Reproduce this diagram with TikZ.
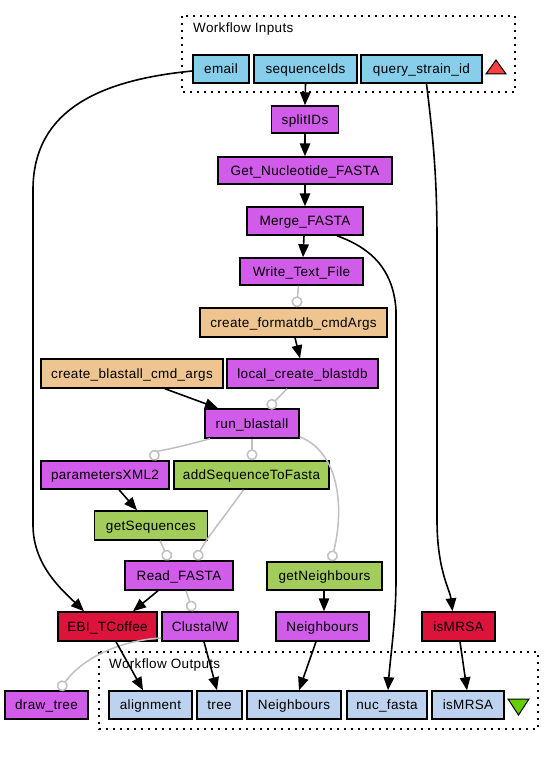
\documentclass[tikz,border=0pt]{standalone}
\usepackage{fontspec}
\setmainfont{Liberation Sans}[LetterSpace=2.5]
\usetikzlibrary{arrows.meta}
\definecolor{inblue}{RGB}{135,206,235}
\definecolor{procpurple}{RGB}{208,92,233}
\definecolor{tanbox}{RGB}{238,197,145}
\definecolor{greenbox}{RGB}{162,205,90}
\definecolor{redbox}{RGB}{220,20,60}
\definecolor{outblue}{RGB}{188,210,238}
\definecolor{ctlgrey}{RGB}{192,192,192}
\definecolor{trired}{RGB}{255,64,64}
\definecolor{trigreen}{RGB}{102,205,0}
\begin{document}
\begin{tikzpicture}[x=1pt,y=-1pt,
  box/.style={draw=black, line width=1.5pt, inner sep=0pt, minimum height=28pt,
    text height=11.5pt, text depth=2.3pt, font=\fontsize{13.5}{15}\selectfont},
  inbox/.style={box, fill=inblue},
  procbox/.style={box, fill=procpurple},
  tbox/.style={box, fill=tanbox},
  gbox/.style={box, fill=greenbox},
  rbox/.style={box, fill=redbox},
  obox/.style={box, fill=outblue},
  cluster/.style={draw=black, line width=1.8pt, dash pattern=on 1.8pt off 5.2pt},
  clabel/.style={anchor=base west, inner sep=0pt, font=\fontsize{13.5}{15}\selectfont},
  dep/.style={draw=black, line width=1.6pt, -{Triangle[length=13pt,width=10.5pt]}},
  ctl/.style={draw=ctlgrey, line width=1.5pt, -{Circle[length=11pt,width=11pt,fill=white]}},
  tri/.style={draw=black, line width=1pt}
]
\useasboundingbox[fill=white] (0,0) rectangle (555,757);

% clusters
\draw[cluster] (182,16) rectangle (515,92);
\node[clabel] (inlabel) at (193,32.7) {Workflow Inputs};
\draw[cluster] (99,652) rectangle (538,729);
\node[clabel] (outlabel) at (109,668.3) {Workflow Outputs};

% inputs
\node[inbox, minimum width=56pt] (email) at (221,69) {email};
\node[inbox, minimum width=103pt] (seqIds) at (305.5,69) {sequenceIds};
\node[inbox, minimum width=121pt] (qsid) at (421.5,69) {query\_strain\_id};
\draw[tri, fill=trired] (486,74) -- (506,74) -- (496,60) -- cycle;

% processors
\node[procbox, minimum width=67pt, minimum height=27pt] (splitIDs) at (305,119.5) {splitIDs};
\node[procbox, minimum width=174pt, minimum height=27pt] (getnuc) at (305,170.5) {Get\_Nucleotide\_FASTA};
\node[procbox, minimum width=116pt] (merge) at (305,221) {Merge\_FASTA};
\node[procbox, minimum width=123pt, minimum height=27pt] (write) at (301.5,271.5) {Write\_Text\_File};
\node[tbox, minimum width=187pt, minimum height=29pt] (formatdb) at (293.5,322.5) {create\_formatdb\_cmdArgs};
\node[tbox, minimum width=182pt, minimum height=29pt] (blastargs) at (132,373.5) {create\_blastall\_cmd\_args};
\node[procbox, minimum width=151pt, minimum height=29pt] (localdb) at (302.5,373.5) {local\_create\_blastdb};
\node[procbox, minimum width=94pt, minimum height=29pt] (runblast) at (252,423.5) {run\_blastall};
\node[procbox, minimum width=128pt] (params) at (105,475) {parametersXML2};
\node[gbox, minimum width=155pt] (addseq) at (251.5,475) {addSequenceToFasta};
\node[gbox, minimum width=113pt, minimum height=29pt] (getseq) at (151,525.5) {getSequences};
\node[procbox, minimum width=108pt, minimum height=29pt] (readfasta) at (179,575.5) {Read\_FASTA};
\node[gbox, minimum width=115pt] (getneigh) at (324.5,576) {getNeighbours};
\node[rbox, minimum width=99pt, minimum height=29pt] (ebi) at (107.5,626.5) {EBI\_TCoffee};
\node[procbox, minimum width=76pt, minimum height=29pt] (clustalw) at (200,626.5) {ClustalW};
\node[procbox, minimum width=93pt, minimum height=29pt] (neighP) at (322.5,626.5) {Neighbours};
\node[rbox, minimum width=73pt, minimum height=29pt] (ismrsa) at (458.5,626.5) {isMRSA};
\node[procbox, minimum width=83pt] (drawtree) at (46.5,705) {draw\_tree};

% outputs
\node[obox, minimum width=83pt] (alignment) at (150.5,705) {alignment};
\node[obox, minimum width=45pt] (tree) at (219.5,705) {tree};
\node[obox, minimum width=94pt] (neighO) at (294,705) {Neighbours};
\node[obox, minimum width=80pt] (nucfasta) at (387,705) {nuc\_fasta};
\node[obox, minimum width=72pt] (ismrsaO) at (468,705) {isMRSA};
\draw[tri, fill=trigreen] (508,699) -- (529,699) -- (518.5,715) -- cycle;

% data links
\draw[dep] ([yshift=-2pt]email.west) .. controls (100,80) and (33,110) .. (33,190)
  -- (33,525) .. controls (33,565) and (62,590) .. ([xshift=-23.5pt]ebi.north);
\draw[dep] (seqIds.south) -- (splitIDs.north);
\draw[dep] ([xshift=5pt]qsid.south) .. controls (432,130) and (437,170) .. (437,240)
  -- (437,520) .. controls (437,570) and (450,590) .. ([xshift=-6pt]ismrsa.north);
\draw[dep] (splitIDs.south) -- (getnuc.north);
\draw[dep] (getnuc.south) -- (merge.north);
\draw[dep] ([xshift=-1pt]merge.south) -- ([xshift=1.5pt]write.north);
\draw[dep] ([xshift=32pt]merge.south) .. controls (362,245) and (393,262) .. (396,310)
  -- (396,580) .. controls (396,620) and (390,660) .. ([xshift=1pt]nucfasta.north);
\draw[ctl] ([xshift=-3pt]write.south) -- ([xshift=3pt]formatdb.north);
\draw[dep] ([xshift=1.5pt]formatdb.south) -- ([xshift=-2.5pt]localdb.north);
\draw[dep] ([xshift=33pt]blastargs.south) -- ([xshift=-34pt]runblast.north);
\draw[ctl] ([xshift=-15.5pt]localdb.south) -- ([xshift=16pt]runblast.north);
\draw[ctl] ([xshift=-42pt]runblast.south) .. controls (180,447) and (156,452) .. ([xshift=47pt]params.north);
\draw[ctl] (runblast.south) -- ([xshift=0.5pt]addseq.north);
\draw[ctl] ([yshift=2pt]runblast.south east) .. controls (345,455) and (342,520) .. ([xshift=6.5pt]getneigh.north);
\draw[dep] ([xshift=14pt]params.south) -- ([xshift=-14pt]getseq.north);
\draw[ctl] ([xshift=-8pt]addseq.south) .. controls (228,512) and (205,540) .. ([xshift=17pt]readfasta.north);
\draw[ctl] ([xshift=9pt]getseq.south) -- ([xshift=-10pt]readfasta.north);
\draw[dep] ([xshift=-21pt]readfasta.south) -- ([xshift=25.5pt]ebi.north);
\draw[ctl] ([xshift=7pt]readfasta.south) -- ([xshift=-7pt]clustalw.north);
\draw[dep] ([xshift=-0.5pt]getneigh.south) -- ([xshift=1.5pt]neighP.north);
\draw[ctl] ([yshift=-11.5pt]clustalw.west) .. controls (125,640) and (85,655) .. ([xshift=12.5pt]drawtree.north);
\draw[dep] ([xshift=8.5pt]ebi.south) -- ([xshift=-7.5pt]alignment.north);
\draw[dep] ([xshift=4pt]clustalw.south) -- ([xshift=-2.5pt]tree.north);
\draw[dep] ([xshift=-6.5pt]neighP.south) -- ([xshift=5pt]neighO.north);
\draw[dep] ([xshift=1.5pt]ismrsa.south) -- ([xshift=-1pt]ismrsaO.north);
\end{tikzpicture}
\end{document}
